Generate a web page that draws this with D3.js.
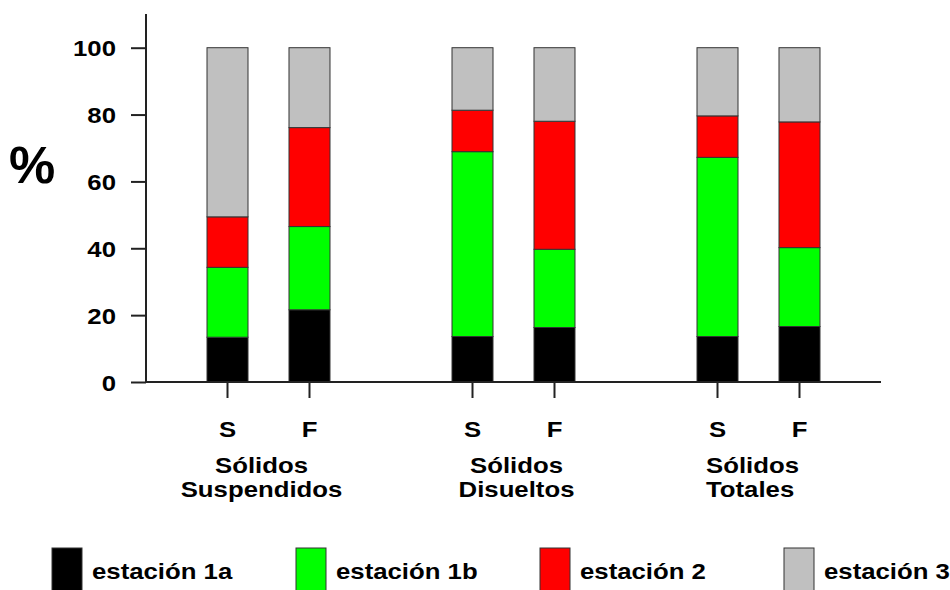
<!DOCTYPE html>
<html>
<head>
<meta charset="utf-8">
<script src="https://cdnjs.cloudflare.com/ajax/libs/d3/7.8.5/d3.min.js"></script>
<style>
    html, body { margin: 0; background: #fff; }
    svg text { font-family: "Liberation Sans", Arial, sans-serif; font-weight: bold; fill: #000; }
</style>
</head>
<body>
<svg id="chart" width="950" height="590"></svg>
<script>

// data (percent of each station per bar)
var groups = ['Sólidos Suspendidos', 'Sólidos Disueltos', 'Sólidos Totales'];
var groupLines = [['Sólidos', 'Suspendidos'], ['Sólidos', 'Disueltos'], ['Sólidos', 'Totales']];
var subs = ['S', 'F'];
var stations = ['estación 1a', 'estación 1b', 'estación 2', 'estación 3'];
var colors = ['#000000', '#00ff00', '#ff0000', '#c0c0c0'];

// one value per bar, order: SS-S, SS-F, SD-S, SD-F, ST-S, ST-F
var est1a = [13.4, 21.6, 13.6, 16.3, 13.6, 16.6];
var est1b = [20.9, 24.9, 55.3, 23.4, 53.6, 23.6];
var est2  = [15.1, 29.6, 12.4, 38.3, 12.4, 37.6];
var est3  = [50.6, 23.9, 18.7, 22.0, 20.4, 22.2];
var yTicks = [0, 20, 40, 60, 80, 100];

var series = [est1a, est1b, est2, est3];
var rows = [];
groups.forEach(function(g, gi) {
    subs.forEach(function(s, si) {
        var i = gi * 2 + si, row = { group: g, sub: s };
        stations.forEach(function(st, k) { row[st] = series[k][i]; });
        rows.push(row);
    });
});

var svg = d3.select('#chart');
var SX = 1.12, FS = 23; // the original font is a bit wider than Liberation Sans

var x0 = d3.scaleBand().domain(groups).range([146, 881]);
var x1 = d3.scaleBand().domain(subs).range([0, x0.bandwidth()])
    .paddingInner(0.5).paddingOuter(0.744);
var y = d3.scaleLinear().domain([0, 100]).range([382, 47.7]);

var stack = d3.stack().keys(stations)(rows);

// bars
svg.append('g').selectAll('g')
    .data(stack)
    .join('g')
    .attr('fill', function(d, i) { return colors[i]; })
    .selectAll('rect')
    .data(function(d) { return d; })
    .join('rect')
    .attr('x', function(d) { return x0(d.data.group) + x1(d.data.sub); })
    .attr('width', x1.bandwidth())
    .attr('y', function(d) { return y(d[1]); })
    .attr('height', function(d) { return y(d[0]) - y(d[1]); })
    .attr('stroke', '#333')
    .attr('stroke-width', 1);

// y axis
var yAxis = svg.append('g')
    .attr('transform', 'translate(146,0)')
    .call(d3.axisLeft(y).tickValues(yTicks).tickSize(15));
yAxis.select('.domain').remove();
yAxis.selectAll('.tick line').attr('stroke', '#222').attr('stroke-width', 2);
yAxis.selectAll('.tick text')
    .attr('x', -30 / SX)
    .attr('dy', '0.36em')
    .attr('transform', 'scale(' + SX + ',1)')
    .style('font-size', FS + 'px')
    .style('font-family', '"Liberation Sans", Arial, sans-serif')
    .style('font-weight', 'bold')
    .attr('fill', '#000');
svg.append('line')
    .attr('x1', 146).attr('x2', 146).attr('y1', 14).attr('y2', 383)
    .attr('stroke', '#222').attr('stroke-width', 2);

// x axis
svg.append('line')
    .attr('x1', 145).attr('x2', 881).attr('y1', 382).attr('y2', 382)
    .attr('stroke', '#222').attr('stroke-width', 2);
svg.append('g').selectAll('line')
    .data(rows)
    .join('line')
    .attr('x1', function(d) { return x0(d.group) + x1(d.sub) + x1.bandwidth() / 2; })
    .attr('x2', function(d) { return x0(d.group) + x1(d.sub) + x1.bandwidth() / 2; })
    .attr('y1', 382).attr('y2', 398)
    .attr('stroke', '#222').attr('stroke-width', 2);

function label(x, yy, txt, size, anchor) {
    svg.append('g')
        .attr('transform', 'translate(' + x + ',' + yy + ') scale(' + SX + ',1)')
        .append('text')
        .attr('text-anchor', anchor || 'middle')
        .style('font-size', size + 'px')
        .text(txt);
}

// S / F labels
rows.forEach(function(d) {
    label(x0(d.group) + x1(d.sub) + x1.bandwidth() / 2, 437, d.sub, FS);
});

// group labels
var groupShift = [-7, 3, -6];
groupLines.forEach(function(lines, gi) {
    var cx = x0(groups[gi]) + x0.bandwidth() / 2 + groupShift[gi];
    if (gi === 2) {
        label(706, 473, lines[0], FS, 'start');
        label(706, 497, lines[1], FS, 'start');
    } else {
        label(cx, 473, lines[0], FS);
        label(cx, 497, lines[1], FS);
    }
});

// percent sign
svg.append('text')
    .attr('x', 9).attr('y', 183)
    .style('font-size', '52px')
    .text('%');

// legend
var legendX = d3.scalePoint().domain(stations).range([52, 784]);
var leg = svg.append('g').selectAll('g')
    .data(stations)
    .join('g')
    .attr('transform', function(d) { return 'translate(' + legendX(d) + ',548)'; });
leg.append('rect')
    .attr('width', 30).attr('height', 50)
    .attr('fill', function(d, i) { return colors[i]; })
    .attr('stroke', '#333').attr('stroke-width', 1);
leg.append('g')
    .attr('transform', 'translate(40,31) scale(' + SX + ',1)')
    .append('text')
    .style('font-size', FS + 'px')
    .text(function(d) { return d; });

</script>
</body>
</html>
